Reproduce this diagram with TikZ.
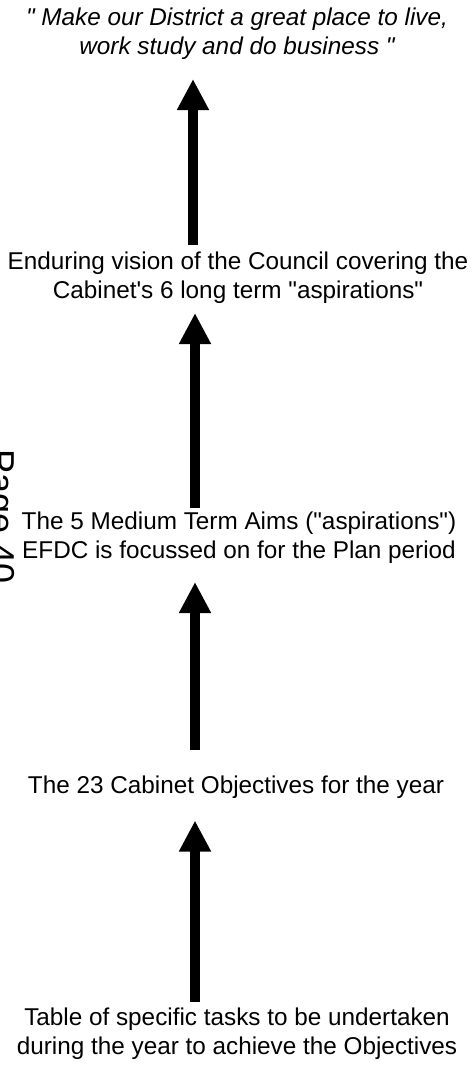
\documentclass[tikz,border=0pt]{standalone}
\usepackage{fontspec}
\setmainfont{Liberation Sans}[Ligatures=TeXOff]
\usetikzlibrary{arrows.meta}

\begin{document}
\begin{tikzpicture}[x=1pt, y=-1pt, every node/.style={font=\fontsize{24.3}{29}\selectfont, align=center, inner sep=0pt}]
\useasboundingbox (0,0) rectangle (474,1066);
\tikzset{uparrow/.style={line width=10pt, -{Triangle[width=30pt,length=31pt]}}}
\node (motto) at (237,34) {\itshape " Make our District a great place to live,\\ \itshape work study and do business "};
\node (council) at (238,278) {Enduring vision of the Council covering the\\Cabinet's 6 long term "aspirations"};
\node (aims) at (239,538) {The 5 Medium Term Aims ("aspirations")\\EFDC is focussed on for the Plan period};
\node (objectives) at (236,787) {The 23 Cabinet Objectives for the year};
\node (tasks) at (237,1034) {Table of specific tasks to be undertaken\\during the year to achieve the Objectives};
% arrows up the chain
\draw[uparrow] ([xshift=-42pt,yshift=6pt]tasks.north) -- ([xshift=-41pt,yshift=-22pt]objectives.south);
\draw[uparrow] ([xshift=-41pt,yshift=25pt]objectives.north) -- ([xshift=-44pt,yshift=-18pt]aims.south);
\draw[uparrow] ([xshift=-44pt,yshift=4pt]aims.north) -- ([xshift=-43pt,yshift=-9pt]council.south);
\draw[uparrow] ([xshift=-45pt,yshift=7pt]council.north) -- ([xshift=-44pt,yshift=-19pt]motto.south);
\node[rotate=-90, anchor=base west, font=\fontsize{36}{38}\selectfont] (page) at (-10,449) {Page 40};
\end{tikzpicture}
\end{document}
